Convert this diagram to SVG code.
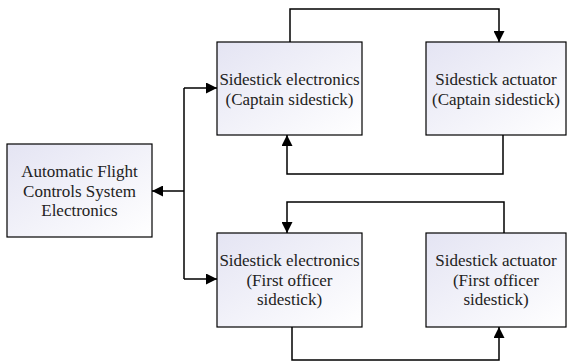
<svg xmlns="http://www.w3.org/2000/svg" width="568" height="363" viewBox="0 0 568 363">
<style>
.box{stroke:#000;stroke-width:1.2;fill:url(#g)}
text{font-family:"Liberation Serif",serif;font-size:17px;fill:#222;text-anchor:middle}
.c{fill:none;stroke:#000;stroke-width:1.5}
</style>
<defs>
<linearGradient id="g" x1="0" y1="0" x2="1" y2="1">
<stop offset="0" stop-color="#e4e4f3"/>
<stop offset="1" stop-color="#ffffff"/>
</linearGradient>
<marker id="a" viewBox="0 0 10 10" refX="10" refY="5" markerWidth="11" markerHeight="11" markerUnits="userSpaceOnUse" orient="auto">
<path d="M0,0L10,5L0,10z" fill="#000"/>
</marker>
</defs>
<rect width="568" height="363" fill="#fff"/>
<g font-family="Liberation Serif, serif">
<g id="afcs"><rect class="box" x="7" y="144" width="145" height="93"/>
<text x="79.5" y="177" font-family="Liberation Serif">Automatic Flight</text>
<text x="79.5" y="196.5" font-family="Liberation Serif">Controls System</text>
<text x="79.5" y="216" font-family="Liberation Serif">Electronics</text></g>
<g id="cap_se"><rect class="box" x="217" y="42" width="145" height="93"/>
<text x="289.5" y="85" font-family="Liberation Serif">Sidestick electronics</text>
<text x="289.5" y="104.5" font-family="Liberation Serif">(Captain sidestick)</text></g>
<g id="cap_sa"><rect class="box" x="426" y="42" width="140" height="93"/>
<text x="496" y="85" font-family="Liberation Serif">Sidestick actuator</text>
<text x="496" y="104.5" font-family="Liberation Serif">(Captain sidestick)</text></g>
<g id="fo_se"><rect class="box" x="217" y="233" width="145" height="94"/>
<text x="289.5" y="266" font-family="Liberation Serif">Sidestick electronics</text>
<text x="289.5" y="285.5" font-family="Liberation Serif">(First officer</text>
<text x="289.5" y="305" font-family="Liberation Serif">sidestick)</text></g>
<g id="fo_sa"><rect class="box" x="426" y="233" width="140" height="94"/>
<text x="496" y="266" font-family="Liberation Serif">Sidestick actuator</text>
<text x="496" y="285.5" font-family="Liberation Serif">(First officer</text>
<text x="496" y="305" font-family="Liberation Serif">sidestick)</text></g>
</g>
<g id="connectors">
<path class="c" d="M184,88V279"/>
<path class="c" d="M184,88H217" marker-end="url(#a)"/>
<path class="c" d="M184,279H217" marker-end="url(#a)"/>
<path class="c" d="M184,191H152" marker-end="url(#a)"/>
<path class="c" d="M290,42V9H499V42" marker-end="url(#a)"/>
<path class="c" d="M503,135V174H287V135" marker-end="url(#a)"/>
<path class="c" d="M504,233V202H287V233" marker-end="url(#a)"/>
<path class="c" d="M292,327V360H499V327" marker-end="url(#a)"/>
</g>
</svg>
